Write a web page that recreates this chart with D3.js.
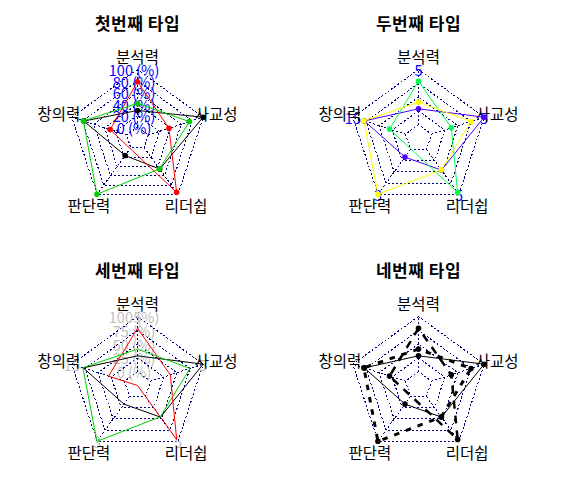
<!DOCTYPE html>
<html><head><meta charset="utf-8">
<script src="https://cdn.jsdelivr.net/npm/d3@7"></script>
<style>body{margin:0;background:#fff}svg{display:block}</style>
</head><body>
<svg id="c" width="563" height="494"></svg>
<script>
// ---- data ----
const axisLabels = ["분석력", "창의력", "판단력", "리더쉽", "사교성"];
const maxValues = [5, 15, 3, 5, 5];
const minValues = [1, 3, 0, 1, 1];
const series1 = [2.15, 12.38, 0.5, 2.83, 5];
const series2 = [4.15, 6.62, null, 4.83, 2.5];
const series3 = [2.64, 12.48, 3, 2.81, 4];
const titles = ["첫번째 타입", "두번째 타입", "세번째 타입", "네번째 타입"];
const pctLabels5 = ["0 (%)", "20 (%)", "40 (%)", "60 (%)", "80 (%)", "100 (%)"];
const pctLabels4 = ["0 (%)", "25 (%)", "50 (%)", "75 (%)", "100 (%)"];
const maxLabels = maxValues.map(String);

const allSeries = [series1, series2, series3];
const FONT = "'Noto Sans CJK KR', 'Noto Sans', sans-serif";

const panels = [
  {seg: 5, colors: ["#000000", "#FF0000", "#00CD00"], dash: [null, null, null], lwd: [1, 1, 1],
   points: true, cLabels: pctLabels5, vLabels: null, labCol: "#0000FF", naItp: true},
  {seg: 4, colors: ["#4C00FF", "#00FF4D", "#FFFF00"], dash: [null, null, null], lwd: [1, 1, 1],
   points: true, cLabels: null, vLabels: maxLabels, labCol: "#0000FF", naItp: true},
  {seg: 4, colors: ["#000000", "#FF0000", "#00CD00"], dash: [null, null, null], lwd: [1, 1, 1],
   points: false, cLabels: pctLabels4, vLabels: maxLabels, labCol: "#BEBEBE", naItp: false},
  {seg: 4, colors: ["#000000", "#000000", "#000000"], dash: [null, "8,7", "5.5,7"], lwd: [1, 2.5, 3],
   points: true, cLabels: null, vLabels: null, labCol: "#0000FF", naItp: true}
];

const svg = d3.select("#c");
const R = 69;
const n = axisLabels.length;
const theta = d3.range(n).map(j => (90 + 360 / n * j) * Math.PI / 180);

panels.forEach((p, k) => {
  const col = k % 2, row = Math.floor(k / 2);
  const cx = col * 281 + 137.5, cy = row * 247 + 138.5;
  const g = svg.append("g").attr("transform", `translate(${cx},${cy})`);
  const inner = 1 / (p.seg + 1);
  const scales = d3.range(n).map(j => d3.scaleLinear().domain([minValues[j], maxValues[j]]).range([R * inner, R]));
  const pt = (r, j) => [r * Math.cos(theta[j]), -r * Math.sin(theta[j])];
  const ringScale = d3.scaleLinear().domain([0, p.seg]).range([R * inner, R]);

  // title
  svg.append("text").attr("x", cx).attr("y", row * 247 + 22)
    .attr("text-anchor", "middle").attr("dominant-baseline", "central")
    .style("font-family", FONT).style("font-weight", "bold").style("font-size", "17px")
    .style("letter-spacing", "0.5px")
    .text(titles[k]);

  // grid rings
  d3.range(p.seg + 1).forEach(i => {
    const rr = ringScale(i);
    g.append("polygon")
      .attr("points", d3.range(n).map(j => pt(rr, j).join(",")).join(" "))
      .attr("fill", "none").attr("stroke", "#000080").attr("stroke-width", 1)
      .attr("stroke-dasharray", "2,2").attr("shape-rendering", "crispEdges");
    if (p.cLabels) {
      g.append("text").attr("x", -0.05 * R).attr("y", -rr)
        .attr("text-anchor", "middle").attr("dominant-baseline", "central")
        .style("font-family", FONT).style("font-size", "14.5px").attr("fill", p.labCol)
        .text(p.cLabels[i]);
    }
  });
  // radial lines
  d3.range(n).forEach(j => {
    const a = pt(R * inner, j), b = pt(R, j);
    g.append("line").attr("x1", a[0]).attr("y1", a[1]).attr("x2", b[0]).attr("y2", b[1])
      .attr("stroke", "#000080").attr("stroke-width", 1).attr("stroke-dasharray", "2,2")
      .attr("shape-rendering", "crispEdges");
  });
  // vertex value labels
  if (p.vLabels) {
    d3.range(n).forEach(j => {
      const v = pt(R, j);
      g.append("text").attr("x", v[0]).attr("y", v[1])
        .attr("text-anchor", "middle").attr("dominant-baseline", "central")
        .style("font-family", FONT).style("font-size", "14.5px").attr("fill", p.labCol)
        .text(p.vLabels[j]);
    });
  }
  // variable labels
  d3.range(n).forEach(j => {
    const v = pt(R * 1.2, j);
    g.append("text").attr("x", v[0]).attr("y", v[1])
      .attr("text-anchor", "middle").attr("dominant-baseline", "central")
      .style("font-family", FONT).style("font-size", "15.5px").attr("fill", "#000")
      .text(axisLabels[j]);
  });
  // series
  allSeries.forEach((s, si) => {
    const verts = s.map((val, j) => val == null ? null : pt(scales[j](val), j));
    const poly = verts.map((v, j) => {
      if (v) return v;
      if (!p.naItp) return [0, 0];
      let l = (j - 1 + n) % n; while (!verts[l]) l = (l - 1 + n) % n;
      let r = (j + 1) % n; while (!verts[r]) r = (r + 1) % n;
      const A = verts[l], B = verts[r];
      const dx = Math.cos(theta[j]), dy = -Math.sin(theta[j]);
      const ex = B[0] - A[0], ey = B[1] - A[1];
      const det = dx * (-ey) - dy * (-ex);
      const t = (A[0] * (-ey) - A[1] * (-ex)) / det;
      return [t * dx, t * dy];
    });
    g.append("polygon").attr("points", poly.map(q => q.join(",")).join(" "))
      .attr("fill", "none").attr("stroke", p.colors[si]).attr("stroke-width", p.lwd[si])
      .attr("stroke-dasharray", p.dash[si]).attr("stroke-linejoin", "round");
    if (p.points) {
      g.selectAll(null).data(verts.filter(v => v)).enter().append("circle")
        .attr("cx", d => d[0]).attr("cy", d => d[1]).attr("r", 2.8)
        .attr("fill", p.colors[si]);
    }
  });
});
</script>
</body></html>
